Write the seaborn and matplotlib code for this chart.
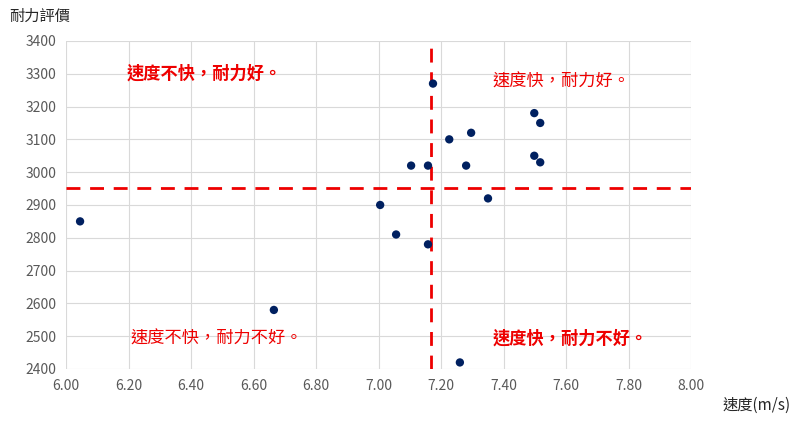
import matplotlib
matplotlib.use("Agg")
import matplotlib.pyplot as plt
import seaborn as sns
import pandas as pd

speed = [6.045, 6.665, 7.005, 7.056, 7.158, 7.104, 7.158, 7.174, 7.226, 7.296,
         7.28, 7.35, 7.26, 7.498, 7.517, 7.498, 7.517]
endurance = [2850, 2580, 2900, 2810, 2780, 3020, 3020, 3270, 3100, 3120,
             3020, 2920, 2420, 3180, 3150, 3050, 3030]
x_ref = 7.168
y_ref = 2952
x_ticks = [6.00, 6.20, 6.40, 6.60, 6.80, 7.00, 7.20, 7.40, 7.60, 7.80, 8.00]
y_ticks = [2400, 2500, 2600, 2700, 2800, 2900, 3000, 3100, 3200, 3300, 3400]
quadrant_labels = ["速度不快，耐力好。", "速度快，耐力好。", "速度不快，耐力不好。", "速度快，耐力不好。"]
quadrant_pos = [(6.195, 3300), (7.365, 3275), (6.205, 2493), (7.365, 2493)]
quadrant_bold = [True, False, False, True]
x_title = "速度(m/s)"
y_title = "耐力評價"

sns.set_theme(style="whitegrid")
plt.rcParams['font.family'] = ['Noto Sans CJK TC', 'DejaVu Sans']

df = pd.DataFrame({"speed": speed, "endurance": endurance})

fig = plt.figure(figsize=(8, 4.22), dpi=100)
ax = fig.add_axes([0.0825, 0.1256, 0.864 - 0.0825, 0.903 - 0.1256])
sns.scatterplot(data=df, x="speed", y="endurance", ax=ax, color="#002060",
                s=36, edgecolor="none", zorder=3)

ax.set_xlim(6.0, 8.0)
ax.set_ylim(2400, 3400)
ax.set_xticks(x_ticks)
ax.set_xticklabels([f"{v:.2f}" for v in x_ticks])
ax.set_yticks(y_ticks)
ax.set_yticklabels([str(v) for v in y_ticks])
ax.grid(True, color="#D9D9D9", linewidth=0.8)
for s in ax.spines.values():
    s.set_visible(False)
ax.tick_params(axis="both", labelsize=10, colors="#595959", length=0, pad=7)
ax.set_xlabel("")
ax.set_ylabel("")

red = "#EE0000"
ax.axvline(x_ref, color=red, linestyle=(0, (5, 3.5)), linewidth=2, zorder=2)
ax.axhline(y_ref, color=red, linestyle=(0, (5, 3.5)), linewidth=2, zorder=2)

for lab, (x, y), b in zip(quadrant_labels, quadrant_pos, quadrant_bold):
    ax.text(x, y, lab, color=red, fontsize=12.4, fontweight="bold" if b else "normal",
            ha="left", va="center", zorder=4)

fig.text(0.012, 0.962, y_title, fontsize=11, color="#262626", ha="left", va="center")
fig.text(0.988, 0.04, x_title, fontsize=11, color="#262626", ha="right", va="center")

fig.savefig("out.png", dpi=100)
